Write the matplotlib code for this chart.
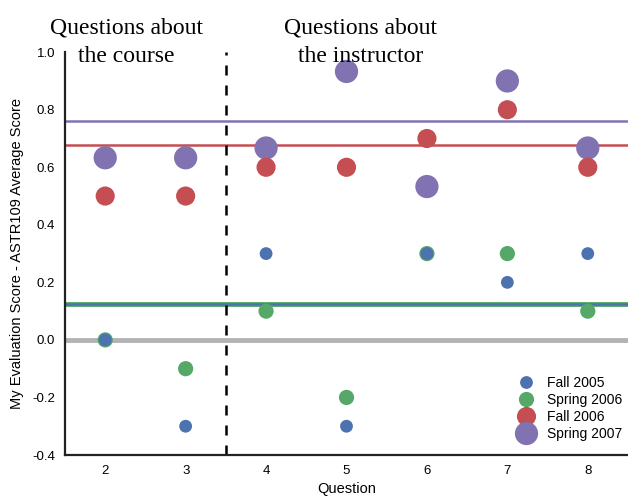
import matplotlib.pyplot as plt
from matplotlib.lines import Line2D

questions = [2, 3, 4, 5, 6, 7, 8]
fall_2005 = [0.0, -0.3, 0.3, -0.3, 0.3, 0.2, 0.3]
spring_2006 = [0.0, -0.1, 0.1, -0.2, 0.3, 0.3, 0.1]
fall_2006 = [0.5, 0.5, 0.6, 0.6, 0.7, 0.8, 0.6]
spring_2007 = [0.633, 0.633, 0.667, 0.933, 0.533, 0.9, 0.667]

# reference levels shown as horizontal lines
avg_lines = {'Fall 2005': 0.125, 'Spring 2006': 0.125,
             'Fall 2006': 0.677, 'Spring 2007': 0.760}

labels = ['Fall 2005', 'Spring 2006', 'Fall 2006', 'Spring 2007']
series = [fall_2005, spring_2006, fall_2006, spring_2007]
colors = ['#4C72B0', '#55A868', '#C44E52', '#8172B2']
sizes = [85, 120, 190, 280]

plt.rcParams['font.family'] = ['Liberation Sans', 'DejaVu Sans']
plt.rcParams['axes.unicode_minus'] = False

fig = plt.figure(figsize=(6.28, 4.97), dpi=100)
ax = fig.add_axes([0.1035, 0.0845, 0.8965, 0.8105])

ax.axhline(0, color='#b3b3b3', lw=3.5, zorder=1)
ax.axhline(avg_lines['Spring 2006'], color=colors[1], lw=3.5, zorder=2)
ax.axhline(avg_lines['Fall 2005'], color=colors[0], lw=1.8, zorder=2)
ax.axhline(avg_lines['Fall 2006'], color=colors[2], lw=1.8, zorder=2)
ax.axhline(avg_lines['Spring 2007'], color=colors[3], lw=1.8, zorder=2)
ax.axvline(3.5, color='black', lw=1.8, ls=(0, (4, 4)), zorder=2)

# biggest markers first so the small ones stay visible
for i in [3, 2, 1, 0]:
    ax.scatter(questions, series[i], s=sizes[i], color=colors[i],
               edgecolors='none', zorder=3)

handles = [Line2D([], [], ls='none', marker='o', color=colors[i],
                  markersize=sizes[i] ** 0.5, markeredgewidth=0)
           for i in range(4)]
ax.legend(handles, labels, loc='lower right', frameon=False, fontsize=10,
          handletextpad=0.5, labelspacing=0.2, borderaxespad=0.2,
          bbox_to_anchor=(1.005, 0.015))

ax.set_xlim(1.5, 8.5)
ax.set_ylim(-0.4, 1.0)
ax.set_xticks(questions)
ax.set_yticks([-0.4, -0.2, 0.0, 0.2, 0.4, 0.6, 0.8, 1.0])
ax.tick_params(length=0, labelsize=9.5, pad=7)
ax.set_xlabel('Question', fontsize=10.5, labelpad=4)
ax.set_ylabel('My Evaluation Score - ASTR109 Average Score', fontsize=10.5, labelpad=6)

for side in ['top', 'right']:
    ax.spines[side].set_visible(False)
for side in ['left', 'bottom']:
    ax.spines[side].set_linewidth(1.6)
    ax.spines[side].set_color('#222222')

# section headings, one text per line
heading_kw = dict(ha='center', va='baseline', fontsize=17,
                  family='Liberation Serif', clip_on=False)
ax.text(2.26, 1.066, 'Questions about', **heading_kw)
ax.text(2.26, 0.965, 'the course', **heading_kw)
ax.text(5.18, 1.066, 'Questions about', **heading_kw)
ax.text(5.18, 0.965, 'the instructor', **heading_kw)

fig.savefig('out.png', dpi=100)
